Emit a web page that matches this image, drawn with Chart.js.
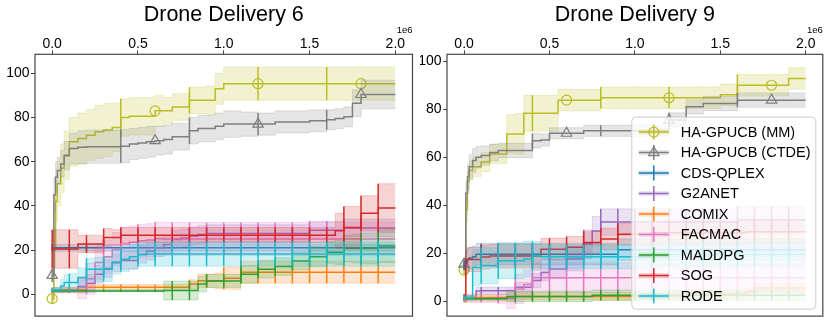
<!DOCTYPE html>
<html>
<head>
<meta charset="utf-8">
<title>Drone Delivery</title>
<script src="https://cdn.jsdelivr.net/npm/chart.js@4.4.1/dist/chart.umd.min.js"></script>
<style>
  html, body { margin: 0; padding: 0; background: #ffffff; }
  #wrap { position: relative; width: 830px; height: 326px; overflow: hidden; }
  #dd6 { position: absolute; left: 0; top: 0; }
  #dd9 { position: absolute; left: 420px; top: 0; }
</style>
</head>
<body>
<div id="wrap">
  <canvas id="dd6" width="420" height="326"></canvas>
  <canvas id="dd9" width="410" height="326"></canvas>
</div>
<script>
const FONT = '"Liberation Sans", Arial, Helvetica, sans-serif';

// environment steps (x 1e6) where the curves are sampled
const steps = [0, 0.01, 0.02, 0.03, 0.05, 0.07, 0.1,
  0.15, 0.2, 0.25, 0.3, 0.35, 0.4, 0.45, 0.5, 0.55, 0.6, 0.65, 0.7, 0.75, 0.8, 0.85, 0.9, 0.95, 1.0,
  1.1, 1.2, 1.3, 1.4, 1.5, 1.6, 1.65, 1.7, 1.75, 1.8, 1.9, 2.0];

const methods = ["HA-GPUCB (MM)", "HA-GPUCB (CTDE)", "CDS-QPLEX", "G2ANET", "COMIX", "FACMAC", "MADDPG", "SOG", "RODE"];
const colors = ["#bcbd22", "#7f7f7f", "#1f77b4", "#9467bd", "#ff7f0e", "#e377c2", "#2ca02c", "#d62728", "#17becf"];

const xTicks = [0, 0.5, 1.0, 1.5, 2.0];
const yTicks = [0, 20, 40, 60, 80, 100];
const errSteps = [0, 0.1, 0.2, 0.3, 0.4, 0.5, 0.6, 0.7, 0.8, 0.9, 1.0, 1.1, 1.2, 1.3, 1.4, 1.5, 1.6, 1.7, 1.8, 1.9];
const haErrSteps = [0, 0.4, 0.8, 1.2, 1.6];
const haMarkSteps = [0, 0.6, 1.2, 1.8];

// ---- Drone Delivery 6 (mean / std) ----
const dd6_mm = [-2, 20, 42, 50, 57, 63, 69,
  70.5, 72, 73.5, 74.3, 75.5, 80, 80.6, 80.6, 80.6, 83, 83, 84.8, 84.8, 87.8, 87.8, 87.8, 93, 95.3,
  95.3, 95.3, 95.3, 95.3, 95.3, 95.3, 95.3, 95.3, 95.3, 95.3, 95.3, 95.3];
const dd6_mm_sd = [2, 8, 9, 10, 11, 11, 11,
  11.5, 11.5, 12, 12, 11, 8.5, 8.5, 8.5, 8.5, 7, 6, 6, 6, 6, 6, 6.5, 7, 7.5,
  7.5, 7.5, 7.5, 7.5, 7.5, 7.5, 7.5, 7.5, 7.5, 7.5, 7.5, 7.5];
const dd6_ct = [8.5, 45, 53, 56, 59, 62.7, 66,
  66.5, 66.8, 66.8, 66.8, 66.8, 67, 68, 68.5, 69, 69.5, 70, 71.3, 71.3, 74, 75, 75, 76, 77,
  77, 77, 78, 78, 78.5, 79, 79.5, 80.3, 86.5, 90.4, 90.4, 90.4];
const dd6_ct_sd = [3, 8, 7, 6, 6, 6.5, 7,
  7.5, 7.5, 7.5, 7.5, 7.5, 7.5, 7, 7, 7, 6.5, 6.5, 6, 6, 6, 6, 6, 6, 6,
  5.5, 5, 5, 5, 5, 4.5, 4.5, 4.5, 6, 6.5, 6.5, 6.5];
const dd6_cds = [21, 21, 21, 21, 21, 21, 21,
  21, 21, 21, 21, 21, 21, 21, 21, 21, 21, 21, 21, 21, 21, 21, 21, 21, 21,
  21, 21, 21, 21, 21, 21, 21, 21, 21, 21, 21, 21];
const dd6_cds_sd = [1.5, 1.5, 1.5, 1.5, 1.5, 1.5, 1.5,
  1.5, 1.5, 1.5, 1.5, 1.5, 1.5, 1.5, 1.5, 1.5, 1.5, 1.5, 1.5, 1.5, 1.5, 1.5, 1.5, 1.5, 1.5,
  1.5, 1.5, 1.5, 1.5, 1.5, 1.5, 1.5, 1.5, 1.5, 1.5, 1.5, 1.5];
const dd6_g2 = [1.5, 2, 2, 2, 2, 2, 2,
  3.5, 5, 9, 11.6, 14.3, 15.3, 15.3, 18, 19.5, 21, 22.5, 24.8, 25.5, 26.3, 27, 27.5, 27.5, 27.5,
  27.5, 27.5, 27.5, 27.5, 29, 29, 29, 30, 30, 30, 30, 30];
const dd6_g2_sd = [0.5, 1, 1, 1, 1, 1, 1,
  3, 4, 4, 4, 4, 4, 4, 4, 4, 4, 4, 4, 4, 4, 4, 4, 4, 4,
  4, 4, 4, 4, 4, 4, 4, 4, 4, 4, 4, 4];
const dd6_com = [1.5, 2, 2, 2, 2, 2, 2,
  2, 3.2, 3.2, 3.2, 3.2, 3.2, 3.2, 3.2, 3.2, 3.2, 3.2, 3.2, 3.2, 4.6, 6.1, 6.1, 6.1, 7.2,
  10, 10, 10, 10, 10, 10, 10, 10, 10, 10, 10, 10];
const dd6_com_sd = [1.2, 1.2, 1.2, 1.2, 1.2, 1.2, 1.2,
  1.2, 1.2, 1.2, 1.2, 1.2, 1.2, 1.2, 1.2, 1.2, 1.2, 1.2, 1.2, 1.2, 2, 3, 3, 3.5, 5,
  5, 5, 5, 5, 5, 5, 5, 5, 5, 5, 5, 5];
const dd6_fac = [1, 1.5, 1.5, 1.5, 1.5, 1.5, 1.5,
  3, 7, 14.4, 17, 20.4, 22.7, 23.5, 24.2, 24.5, 25.2, 25, 25, 25, 25, 25, 25, 25, 25,
  25, 25, 25, 25, 25, 25, 25, 25, 25, 25, 25, 25];
const dd6_fac_sd = [0.5, 1, 1, 1, 1, 1, 1,
  5, 7, 7.5, 7.5, 7.5, 7.5, 7.5, 7.5, 7.5, 7.5, 7.5, 7.5, 7.5, 7.5, 7.5, 7.5, 7.5, 7.5,
  7.5, 7.5, 7.5, 7.5, 7.5, 7.5, 7.5, 7.5, 7.5, 7.5, 7.5, 7.5];
const dd6_mad = [1.5, 1.5, 1.5, 1.5, 1.5, 1.5, 1.5,
  1.5, 1.5, 1.5, 1.5, 1.5, 1.5, 1.5, 1.5, 1.5, 1.5, 1.7, 1.7, 1.7, 1.7, 4.6, 6, 6, 6,
  9, 11.3, 12.5, 15, 17, 19, 19, 20.7, 20.7, 20.7, 21.8, 21.8];
const dd6_mad_sd = [0.5, 0.5, 0.5, 0.5, 0.5, 0.5, 0.5,
  0.5, 0.5, 0.5, 0.5, 0.5, 0.5, 0.5, 0.5, 0.5, 0.5, 4.3, 4.3, 4.3, 4.3, 3.5, 3, 3, 3,
  4, 4, 4, 4, 4.5, 5, 5.5, 6, 6.5, 7, 7.5, 7.5];
const dd6_sog = [20.5, 20.5, 20.5, 20.5, 20.5, 20.5, 20.5,
  22.7, 22.7, 22.7, 25.7, 25.7, 26.7, 26.7, 26.7, 26.7, 26.7, 26.7, 26.7, 26.7, 26.7, 26.7, 26.7, 26.7, 26.7,
  26.7, 26.7, 26.7, 26.7, 26.7, 26.7, 28.7, 30.2, 30.2, 36.6, 39, 39];
const dd6_sog_sd = [8.7, 8.7, 8.7, 8.7, 8.7, 8.7, 8.7,
  4, 4, 4, 4, 3.5, 3.5, 3.5, 3.5, 3.5, 3.5, 3.5, 3.5, 3.5, 3.5, 3.5, 3.5, 3.5, 3.5,
  3.5, 3.5, 3.5, 3.5, 3.5, 3.5, 8, 9.5, 9.5, 8, 11, 11];
const dd6_rod = [2, 2, 2, 2, 3.7, 5.3, 5.3,
  7.5, 11.3, 11.3, 11.3, 14.6, 15.8, 17, 18, 18.2, 18.2, 18.2, 18.2, 18.2, 18.2, 18.2, 18.2, 18.2, 18.2,
  18.2, 18.2, 18.2, 18.2, 18.2, 18.2, 18.2, 18.2, 18.2, 18.2, 18.2, 18.2];
const dd6_rod_sd = [1, 1, 1, 1, 3, 3.5, 4,
  4.5, 5, 5.5, 5.5, 5.5, 5.5, 5.5, 5.5, 5.5, 5.5, 5.5, 5.5, 5.5, 5.5, 5.5, 5.5, 5.5, 5.5,
  5.5, 5.5, 5.5, 5.5, 5.5, 5.5, 5.5, 5.5, 5.5, 5.5, 5.5, 5.5];

// ---- Drone Delivery 9 (mean / std) ----
const dd9_mm = [13, 38, 50, 54.5, 56, 56, 58,
  61.4, 61.4, 69.7, 69.7, 78.3, 78.3, 78.3, 78.3, 83.8, 83.8, 83.8, 83.8, 83.8, 84.8, 84.8, 84.8, 84.8, 84.8,
  84.8, 84.8, 84.8, 84.8, 86, 90, 90, 90, 90, 90, 92.8, 92.8];
const dd9_mm_sd = [2, 5, 4, 4, 4, 4, 4,
  4, 4, 8, 8.5, 7.5, 7.5, 7.5, 7.5, 4.5, 4.5, 4.5, 4.5, 4.5, 4.5, 4.5, 4.5, 4.5, 4.5,
  4.5, 4.5, 4.5, 4.5, 4.5, 4.5, 4.5, 4.5, 4.5, 4.5, 4.5, 4.5];
const dd9_ct = [15.5, 45, 52, 56, 58.6, 60, 60.7,
  62, 62.8, 62.8, 62.8, 62.8, 66.9, 67.2, 70, 70, 70, 70, 71, 71, 71, 71, 71, 71, 71,
  71, 75.5, 81, 82.4, 82.4, 83.8, 83.8, 83.8, 83.8, 83.8, 83.8, 83.8];
const dd9_ct_sd = [2, 5, 5, 5, 5, 4.5, 4,
  3.5, 3, 3, 3, 3, 3, 2.5, 2.3, 2.3, 2.3, 2.3, 2.3, 2.3, 2.3, 2.3, 2.3, 2.3, 2.3,
  2.3, 3, 3, 3, 3, 3, 3, 3, 3, 3, 3, 3];
const dd9_cds = [15, 16, 17.5, 18, 18.5, 19.6, 19.6,
  19.6, 19.6, 19.6, 19.6, 19.6, 19.6, 19.6, 19.6, 19.6, 19.6, 19.6, 19.6, 19.6, 19.6, 19.6, 21.5, 21.5, 21.5,
  21.5, 21.5, 21.5, 21.5, 21.5, 21.5, 21.5, 21.5, 21.5, 21.5, 21.5, 21.5];
const dd9_cds_sd = [2, 4.5, 4.5, 4.5, 4.5, 4.5, 4.5,
  4.5, 4.5, 4.5, 4.5, 4.5, 4.5, 4.5, 4.5, 4.5, 4.5, 4.5, 4.5, 4.5, 4.5, 4.5, 4.5, 4.5, 4.5,
  4.5, 4.5, 4.5, 4.5, 4.5, 4.5, 4.5, 4.5, 4.5, 4.5, 4.5, 4.5];
const dd9_g2 = [1, 1.5, 1.5, 1.5, 1.5, 4.3, 4.4,
  4.4, 4.4, 4.4, 5.8, 5.8, 8.6, 12, 13.4, 13.4, 17.6, 17.6, 23.8, 29.3, 33, 33, 33, 33, 33,
  33, 33, 33, 33, 33, 34, 34, 34, 34, 34, 34, 34];
const dd9_g2_sd = [0.5, 1, 1, 1, 1, 1.5, 1.5,
  1.5, 1.5, 1.5, 2, 2, 3, 3.5, 4, 4, 5, 5, 6, 6, 5.5, 5.5, 5.5, 5.5, 5.5,
  5.5, 5.5, 5.5, 5.5, 5.5, 5.5, 5.5, 5.5, 5.5, 5.5, 5.5, 5.5];
const dd9_com = [0, 1, 1.5, 1.5, 1.5, 1.5, 1.5,
  1.5, 1.5, 1.5, 2, 2, 2, 2, 2, 2, 2, 2, 2, 2, 2, 2, 2, 2, 2,
  2, 2, 3, 3, 3, 3, 4, 5.5, 5.5, 5.5, 5.5, 5.5];
const dd9_com_sd = [0.5, 1.5, 1.5, 1.5, 1.5, 1.5, 1.5,
  1.5, 1.5, 1.5, 1.5, 1.5, 1.5, 1.5, 1.5, 1.5, 1.5, 1.5, 1.5, 1.5, 1.5, 1.5, 1.5, 1.5, 1.5,
  1.5, 1.5, 1.5, 1.5, 1.5, 1.5, 1.5, 2, 2, 2, 2, 2];
const dd9_fac = [0.5, 1, 1, 1, 1, 1, 1,
  1, 1, 1, 5.1, 7, 9.8, 9.8, 9.8, 9.8, 9.8, 9.8, 9.8, 9.8, 9.8, 9.8, 9.8, 9.8, 9.8,
  9.8, 9.8, 9.8, 9.8, 9.8, 9.8, 9.8, 9.8, 9.8, 9.8, 9.8, 9.8];
const dd9_fac_sd = [0.5, 1.5, 1.5, 1.5, 1.5, 1.5, 1.5,
  1.5, 2, 4, 6, 6, 6.2, 6.2, 6.2, 6.2, 6.2, 6.2, 6.2, 6.2, 6.2, 6.2, 6.2, 6.2, 6.2,
  6.2, 6.2, 6.2, 6.2, 6.2, 6.2, 6.2, 6.2, 6.2, 6.2, 6.2, 6.2];
const dd9_mad = [1, 1, 1, 1, 1, 1, 1,
  1, 1, 2, 2, 2, 2, 2, 2, 2, 2, 2, 2, 2.5, 2.5, 2.5, 2.5, 2.5, 2.5,
  2.5, 2.5, 2.5, 2.5, 2.5, 2.5, 2.5, 2.5, 2.5, 2.5, 2.5, 2.5];
const dd9_mad_sd = [0.5, 0.5, 0.5, 0.5, 0.5, 0.5, 0.5,
  0.5, 0.5, 2.2, 2.2, 2.2, 2.2, 2.2, 2.2, 2.2, 2.2, 2.2, 2.2, 2.2, 2.2, 2.2, 2.2, 2.2, 2.2,
  2.2, 2.2, 2.2, 2.2, 2.2, 2.2, 2.2, 2.2, 2.2, 2.2, 2.2, 2.2];
const dd9_sog = [2, 17.4, 17.4, 17.4, 17.4, 17.4, 18.4,
  18.8, 18.8, 18.8, 18.8, 18.8, 18.8, 21.7, 21.7, 21.7, 22.5, 22.5, 24.5, 24.5, 25.9, 25.9, 27.9, 27.9, 27.9,
  28.5, 28.5, 28.5, 28.5, 28.5, 28.5, 29, 29, 29, 29, 29, 29];
const dd9_sog_sd = [1, 4, 5, 5, 5, 5, 5,
  5, 5, 5, 5, 5, 5, 4.5, 4.5, 4.5, 4.5, 4.5, 4.5, 4.5, 4.5, 4.5, 4.5, 4.5, 4.5,
  5, 5, 5, 5, 5, 5, 5, 5, 5, 5, 5, 5];
const dd9_rod = [1.5, 1.5, 1.5, 1.5, 14.1, 14.1, 14.8,
  14.8, 16.9, 16.9, 16.9, 17.6, 18.9, 18.5, 18.5, 18.5, 18.5, 18.5, 18.5, 18.5, 18.5, 18.5, 18.5, 18.5, 18.5,
  19.5, 19.5, 19.5, 19.5, 19.5, 19.5, 19.5, 19.5, 19.5, 19.5, 19.5, 19.5];
const dd9_rod_sd = [1, 1, 1, 1, 7.5, 7.5, 7.5,
  7.5, 7.5, 7.5, 7.5, 7.5, 6, 5, 5, 5, 5, 5, 5, 5, 5, 5, 5, 5, 5,
  5, 5, 5, 5, 5, 5, 5, 5, 5, 5, 5, 5];

function rgba(hex, a) {
  const n = parseInt(hex.slice(1), 16);
  return `rgba(${(n >> 16) & 255},${(n >> 8) & 255},${n & 255},${a})`;
}
function stepIndex(x) {
  return steps.findIndex(s => Math.abs(s - x) < 1e-9);
}

function buildDatasets(means, sds) {
  const list = [];
  means.forEach((m, k) => {
    const c = colors[k];
    const sd = sds[k];
    const isHA = k < 2;
    list.push({
      data: steps.map((x, i) => ({ x, y: m[i] - sd[i] })),
      borderColor: rgba(c, 0.22), borderWidth: 1, fill: false, stepped: 'before'
    });
    list.push({
      data: steps.map((x, i) => ({ x, y: m[i] + sd[i] })),
      borderColor: rgba(c, 0.22), borderWidth: 1, backgroundColor: rgba(c, 0.2),
      fill: '-1', stepped: 'before'
    });
    list.push({
      data: steps.map((x, i) => ({ x, y: m[i] })),
      borderColor: c, borderWidth: 1.5, fill: false, stepped: 'before'
    });
    const bars = [];
    (isHA ? haErrSteps : errSteps).forEach(x => {
      const i = stepIndex(x);
      bars.push({ x, y: m[i] - sd[i] }, { x, y: m[i] + sd[i] }, { x, y: null });
    });
    list.push({ data: bars, borderColor: c, borderWidth: 1.5, fill: false, stepped: false });
    if (isHA) {
      list.push({
        data: haMarkSteps.map(x => ({ x, y: m[stepIndex(x)] })),
        showLine: false, pointStyle: k === 0 ? 'circle' : 'triangle',
        pointRadius: k === 0 ? 5 : 6, pointBorderColor: c,
        pointBackgroundColor: 'rgba(0,0,0,0)', pointBorderWidth: 1.2
      });
    }
  });
  list.forEach((d, j) => {
    d.order = list.length - j;
    if (d.pointRadius === undefined) d.pointRadius = 0;
    d.pointHoverRadius = 0;
  });
  return list;
}

function drawTriangle(ctx, x, y, r) {
  ctx.beginPath();
  ctx.moveTo(x, y - r);
  ctx.lineTo(x + 0.866 * r, y + 0.5 * r);
  ctx.lineTo(x - 0.866 * r, y + 0.5 * r);
  ctx.closePath();
  ctx.stroke();
}

const framePlugin = {
  id: 'frame',
  afterDraw(chart, args, opts) {
    const { ctx, chartArea: a } = chart;
    ctx.save();
    ctx.fillStyle = '#000';
    ctx.font = '21.5px ' + FONT;
    ctx.textAlign = 'center';
    ctx.textBaseline = 'alphabetic';
    ctx.fillText(opts.title, (a.left + a.right) / 2, 21);
    ctx.font = '9.5px ' + FONT;
    ctx.textAlign = 'right';
    ctx.fillText('1e6', a.right, 33);
    ctx.strokeStyle = '#444';
    ctx.lineWidth = 1.2;
    ctx.strokeRect(a.left, a.top, a.right - a.left, a.bottom - a.top);
    ctx.restore();
  }
};

const boxLegendPlugin = {
  id: 'boxLegend',
  afterDatasetsDraw(chart, args, opts) {
    const { ctx, chartArea: a } = chart;
    const x = a.right - opts.right - opts.w;
    const y = a.bottom - opts.bottom - opts.h;
    const r = 4;
    ctx.save();
    ctx.beginPath();
    ctx.moveTo(x + r, y);
    ctx.arcTo(x + opts.w, y, x + opts.w, y + opts.h, r);
    ctx.arcTo(x + opts.w, y + opts.h, x, y + opts.h, r);
    ctx.arcTo(x, y + opts.h, x, y, r);
    ctx.arcTo(x, y, x + opts.w, y, r);
    ctx.closePath();
    ctx.fillStyle = 'rgba(255,255,255,0.8)';
    ctx.fill();
    ctx.strokeStyle = '#cccccc';
    ctx.lineWidth = 1;
    ctx.stroke();

    methods.forEach((name, k) => {
      const c = colors[k];
      const cy = y + opts.first + k * opts.row;
      const x0 = x + 7, x1 = x + 37, xm = (x0 + x1) / 2;
      ctx.fillStyle = rgba(c, 0.2);
      ctx.fillRect(x0, cy - 2.5, x1 - x0, 5);
      ctx.strokeStyle = c;
      ctx.lineWidth = 1.5;
      ctx.beginPath();
      ctx.moveTo(x0, cy); ctx.lineTo(x1, cy);
      ctx.moveTo(xm, cy - 7.5); ctx.lineTo(xm, cy + 7.5);
      ctx.stroke();
      ctx.lineWidth = 1.2;
      if (k === 0) {
        ctx.beginPath(); ctx.arc(xm, cy, 5, 0, Math.PI * 2); ctx.stroke();
      } else if (k === 1) {
        drawTriangle(ctx, xm, cy, 6);
      }
      ctx.fillStyle = '#000';
      ctx.font = '14.5px ' + FONT;
      ctx.textAlign = 'left';
      ctx.textBaseline = 'middle';
      ctx.fillText(name, x + 49, cy + 0.5);
    });
    ctx.restore();
  }
};

function makeChart(cfg) {
  const gridOpts = { display: true, drawOnChartArea: false, drawTicks: true, tickLength: 4, color: '#444', lineWidth: 1 };
  new Chart(document.getElementById(cfg.canvas), {
    type: 'line',
    data: { datasets: buildDatasets(cfg.means, cfg.sds) },
    plugins: [framePlugin, boxLegendPlugin],
    options: {
      responsive: false,
      animation: false,
      devicePixelRatio: 1,
      events: [],
      layout: { padding: { left: 0, right: cfg.padRight, top: 0, bottom: 9 } },
      scales: {
        x: {
          type: 'linear', position: 'top', min: -0.1, max: 2.1,
          afterBuildTicks: s => { s.ticks = xTicks.map(v => ({ value: v })); },
          afterFit: s => { s.height = 54.3; },
          ticks: {
            callback: v => Number(v).toFixed(1), color: '#000', padding: -1,
            autoSkip: false, maxRotation: 0, font: { family: FONT, size: 14, lineHeight: 1 }
          },
          grid: gridOpts,
          border: { display: false }
        },
        y: {
          type: 'linear', position: 'left', min: cfg.yMin, max: cfg.yMax,
          afterBuildTicks: s => { s.ticks = yTicks.map(v => ({ value: v })); },
          afterFit: s => { s.width = cfg.axisW; },
          ticks: {
            callback: v => String(v), color: '#000', padding: 1.5,
            autoSkip: false, font: { family: FONT, size: 14 }
          },
          grid: gridOpts,
          border: { display: false }
        }
      },
      plugins: {
        legend: { display: false },
        tooltip: { enabled: false },
        title: { display: false },
        frame: { title: cfg.title },
        boxLegend: cfg.legend ? { right: 7, bottom: 7, w: 184, h: 192, first: 15, row: 20.5 } : false
      }
    }
  });
}

makeChart({
  canvas: 'dd6', title: 'Drone Delivery 6', yMin: -9.9, yMax: 108.6, axisW: 35, padRight: 7.5, legend: false,
  means: [dd6_mm, dd6_ct, dd6_cds, dd6_g2, dd6_com, dd6_fac, dd6_mad, dd6_sog, dd6_rod],
  sds: [dd6_mm_sd, dd6_ct_sd, dd6_cds_sd, dd6_g2_sd, dd6_com_sd, dd6_fac_sd, dd6_mad_sd, dd6_sog_sd, dd6_rod_sd]
});
makeChart({
  canvas: 'dd9', title: 'Drone Delivery 9', yMin: -6.2, yMax: 102.9, axisW: 27, padRight: 5.5, legend: true,
  means: [dd9_mm, dd9_ct, dd9_cds, dd9_g2, dd9_com, dd9_fac, dd9_mad, dd9_sog, dd9_rod],
  sds: [dd9_mm_sd, dd9_ct_sd, dd9_cds_sd, dd9_g2_sd, dd9_com_sd, dd9_fac_sd, dd9_mad_sd, dd9_sog_sd, dd9_rod_sd]
});
</script>
</body>
</html>
